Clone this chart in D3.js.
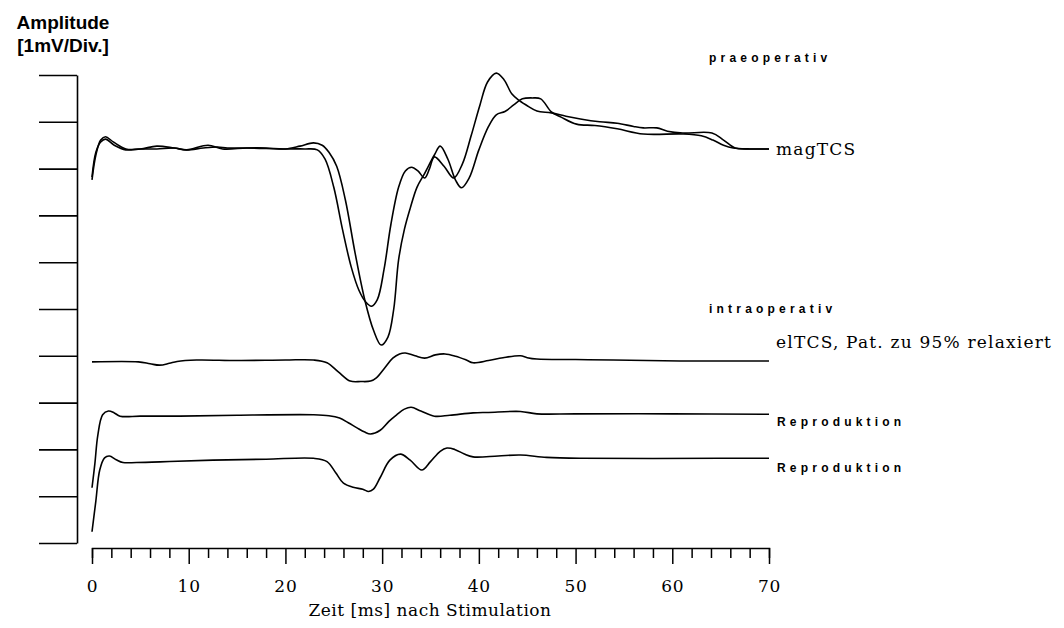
<!DOCTYPE html>
<html><head><meta charset="utf-8">
<script src="https://cdn.jsdelivr.net/npm/d3@7"></script>
<style>
body{margin:0;background:#fff;}
svg{display:block;}
</style></head>
<body>
<script>
// time axis (ms)
const xTicks = d3.range(0, 71, 2);
const xLabels = [0, 10, 20, 30, 40, 50, 60, 70];
const yTicks = d3.range(0, 11, 1); // 1 mV per division

// magTCS (praeoperativ), two superimposed recordings: [ms, mV]
const magTCS_a = [[0,7.76],[0.4,8.29],[0.9,8.61],[1.4,8.68],[2.2,8.57],[3.5,8.42],[5,8.42],[6.7,8.48],[8.5,8.44],[9.8,8.40],[12,8.50],[13.5,8.42],[16,8.44],[18,8.44],[20,8.42],[21.5,8.48],[22.9,8.55],[23.8,8.50],[24.5,8.35],[25.3,8.05],[26.2,7.33],[27.2,6.2],[28.2,5.2],[29.1,4.55],[29.9,4.23],[30.6,4.4],[31.2,5.0],[31.7,6.05],[32.3,6.7],[32.9,7.15],[33.6,7.6],[34.4,7.9],[35.4,8.29],[36.0,8.48],[36.8,8.2],[37.6,7.75],[38.2,7.59],[39.0,7.8],[40.0,8.4],[41.0,8.9],[41.8,9.15],[42.7,9.22],[43.6,9.36],[44.5,9.49],[45.5,9.51],[46.4,9.49],[47.5,9.21],[48.5,9.1],[50.1,8.95],[52,8.92],[54.3,8.85],[57,8.74],[61.1,8.74],[63,8.7],[64.2,8.61],[65.3,8.5],[66.3,8.44],[68,8.42],[70,8.42]];
const magTCS_b = [[0,7.82],[0.4,8.35],[0.9,8.57],[1.4,8.63],[2.3,8.5],[3.5,8.40],[5,8.42],[6.7,8.42],[8.5,8.44],[9.8,8.40],[11.5,8.44],[13,8.46],[14,8.44],[16,8.44],[20,8.42],[22,8.42],[23.3,8.40],[24.1,8.2],[25.0,7.6],[25.9,6.7],[26.8,5.9],[27.6,5.4],[28.3,5.15],[28.9,5.06],[29.5,5.2],[30.2,5.85],[30.9,6.8],[31.7,7.6],[32.4,7.95],[33.05,8.03],[33.7,7.95],[34.4,7.8],[34.9,8.0],[35.4,8.25],[36.4,8.05],[37.4,7.8],[38.3,8.1],[39.2,8.7],[40.1,9.35],[40.9,9.85],[41.8,10.04],[42.6,9.9],[43.4,9.6],[44.2,9.45],[45.1,9.33],[46.0,9.23],[47.5,9.19],[49,9.12],[50.5,9.06],[52.5,9.0],[54.3,8.97],[56,8.9],[57,8.87],[58.4,8.87],[59.5,8.8],[61.1,8.76],[64.1,8.76],[65.3,8.61],[66.5,8.44],[68,8.42],[70,8.42]];

// elTCS (intraoperativ)
const elTCS = [[0,3.87],[4.8,3.87],[6,3.83],[7,3.80],[8,3.84],[8.8,3.88],[10.8,3.91],[15,3.9],[20,3.91],[22.9,3.91],[24.3,3.85],[25.5,3.65],[26.7,3.46],[27.8,3.45],[28.8,3.46],[29.4,3.53],[30.3,3.75],[31.1,3.95],[31.8,4.04],[32.4,4.06],[33.4,4.0],[34.4,3.95],[35.5,4.02],[36.5,4.04],[37.6,3.99],[38.7,3.91],[39.4,3.85],[41,3.9],[42.5,3.96],[44.3,4.0],[45,3.96],[46,3.93],[50,3.92],[53.9,3.91],[60.8,3.89],[70,3.89]];

// Reproduktion 1
const repro1 = [[0,1.18],[0.3,1.7],[0.6,2.3],[1.1,2.74],[1.7,2.82],[2.3,2.78],[2.9,2.71],[5,2.71],[9.1,2.71],[15,2.73],[22.9,2.74],[24.5,2.72],[25.6,2.67],[26.5,2.57],[27.4,2.46],[28.2,2.37],[28.8,2.33],[29.8,2.41],[30.7,2.6],[31.5,2.74],[32.3,2.86],[33.0,2.90],[34.0,2.82],[35.4,2.71],[37,2.73],[39.4,2.78],[41,2.79],[44.3,2.81],[46,2.76],[50,2.76],[60,2.76],[70,2.75]];

// Reproduktion 2
const repro2 = [[0,0.24],[0.4,0.9],[0.8,1.56],[1.3,1.82],[1.8,1.86],[2.5,1.78],[3.2,1.72],[4.6,1.72],[8,1.74],[12.5,1.77],[18,1.79],[22.9,1.81],[24.3,1.74],[25.2,1.5],[26,1.28],[27,1.19],[28.0,1.15],[28.6,1.10],[29.1,1.15],[29.8,1.4],[30.8,1.77],[31.9,1.90],[32.9,1.77],[34.1,1.56],[35,1.74],[36,1.96],[36.7,2.03],[37.5,2.0],[38.5,1.9],[39.4,1.84],[42,1.86],[44.3,1.88],[47,1.83],[50.5,1.81],[65,1.81],[70,1.81]];

const W = 1064, H = 628;
const svg = d3.select("body").append("svg").attr("width", W).attr("height", H);

const x = d3.scaleLinear().domain([0, 70]).range([92, 769]);
const y = d3.scaleLinear().domain([0, 10]).range([543, 75]);

const serif = "DejaVu Serif, serif";
const sans = "Liberation Sans, Arial, sans-serif";

// y axis
const yAxis = d3.axisLeft(y).tickValues(yTicks).tickSize(38).tickSizeOuter(0).tickFormat("");
const gy = svg.append("g").attr("transform", "translate(77,0)").call(yAxis);
gy.selectAll("line,path").attr("stroke", "#000").attr("stroke-width", 1.6);

// x axis
const xAxis = d3.axisBottom(x).tickValues(xTicks).tickSizeOuter(0)
  .tickSize(10).tickFormat("");
const gx = svg.append("g").attr("transform", "translate(0,548)").call(xAxis);
gx.selectAll("line,path").attr("stroke", "#000").attr("stroke-width", 1.5);
gx.selectAll(".tick line").attr("y2", d => d % 10 === 0 ? 16 : 10);
gx.selectAll(".tick").filter(d => xLabels.includes(d)).append("text")
  .attr("y", 44).attr("text-anchor", "middle").attr("fill", "#000")
  .style("font-family", serif).style("font-size", "17px").style("letter-spacing", "0.8px")
  .text(d => d);

svg.append("text").attr("x", 430).attr("y", 616).attr("text-anchor", "middle")
  .style("font-family", serif).style("font-size", "17px").style("letter-spacing", "0.5px")
  .text("Zeit [ms] nach Stimulation");

// y title
const yt = svg.append("text").attr("text-anchor", "middle")
  .style("font-family", sans).style("font-weight", "bold").style("font-size", "19px");
yt.append("tspan").attr("x", 63).attr("y", 29).text("Amplitude");
yt.append("tspan").attr("x", 63).attr("y", 52).text("[1mV/Div.]");

// traces
const line = d3.line().x(d => x(d[0])).y(d => y(d[1])).curve(d3.curveCatmullRom.alpha(0.5));
[magTCS_a, magTCS_b, elTCS, repro1, repro2].forEach(s => {
  svg.append("path").datum(s).attr("d", line)
    .attr("fill", "none").attr("stroke", "#000").attr("stroke-width", 1.6)
    .attr("stroke-linejoin", "round");
});

// labels
function smallLabel(t, xx, yy) {
  svg.append("text").attr("x", xx).attr("y", yy)
    .style("font-family", sans).style("font-weight", "bold").style("font-size", "12px")
    .style("letter-spacing", "4.2px").text(t);
}
smallLabel("praeoperativ", 709, 62);
smallLabel("intraoperativ", 709, 313);
smallLabel("Reproduktion", 777, 426);
smallLabel("Reproduktion", 777, 472);

function serifLabel(t, xx, yy) {
  svg.append("text").attr("x", xx).attr("y", yy)
    .style("font-family", serif).style("font-size", "17px").style("letter-spacing", "1.2px").text(t);
}
serifLabel("magTCS", 776, 155);
serifLabel("elTCS, Pat. zu 95% relaxiert", 776, 348);
</script>
</body></html>
